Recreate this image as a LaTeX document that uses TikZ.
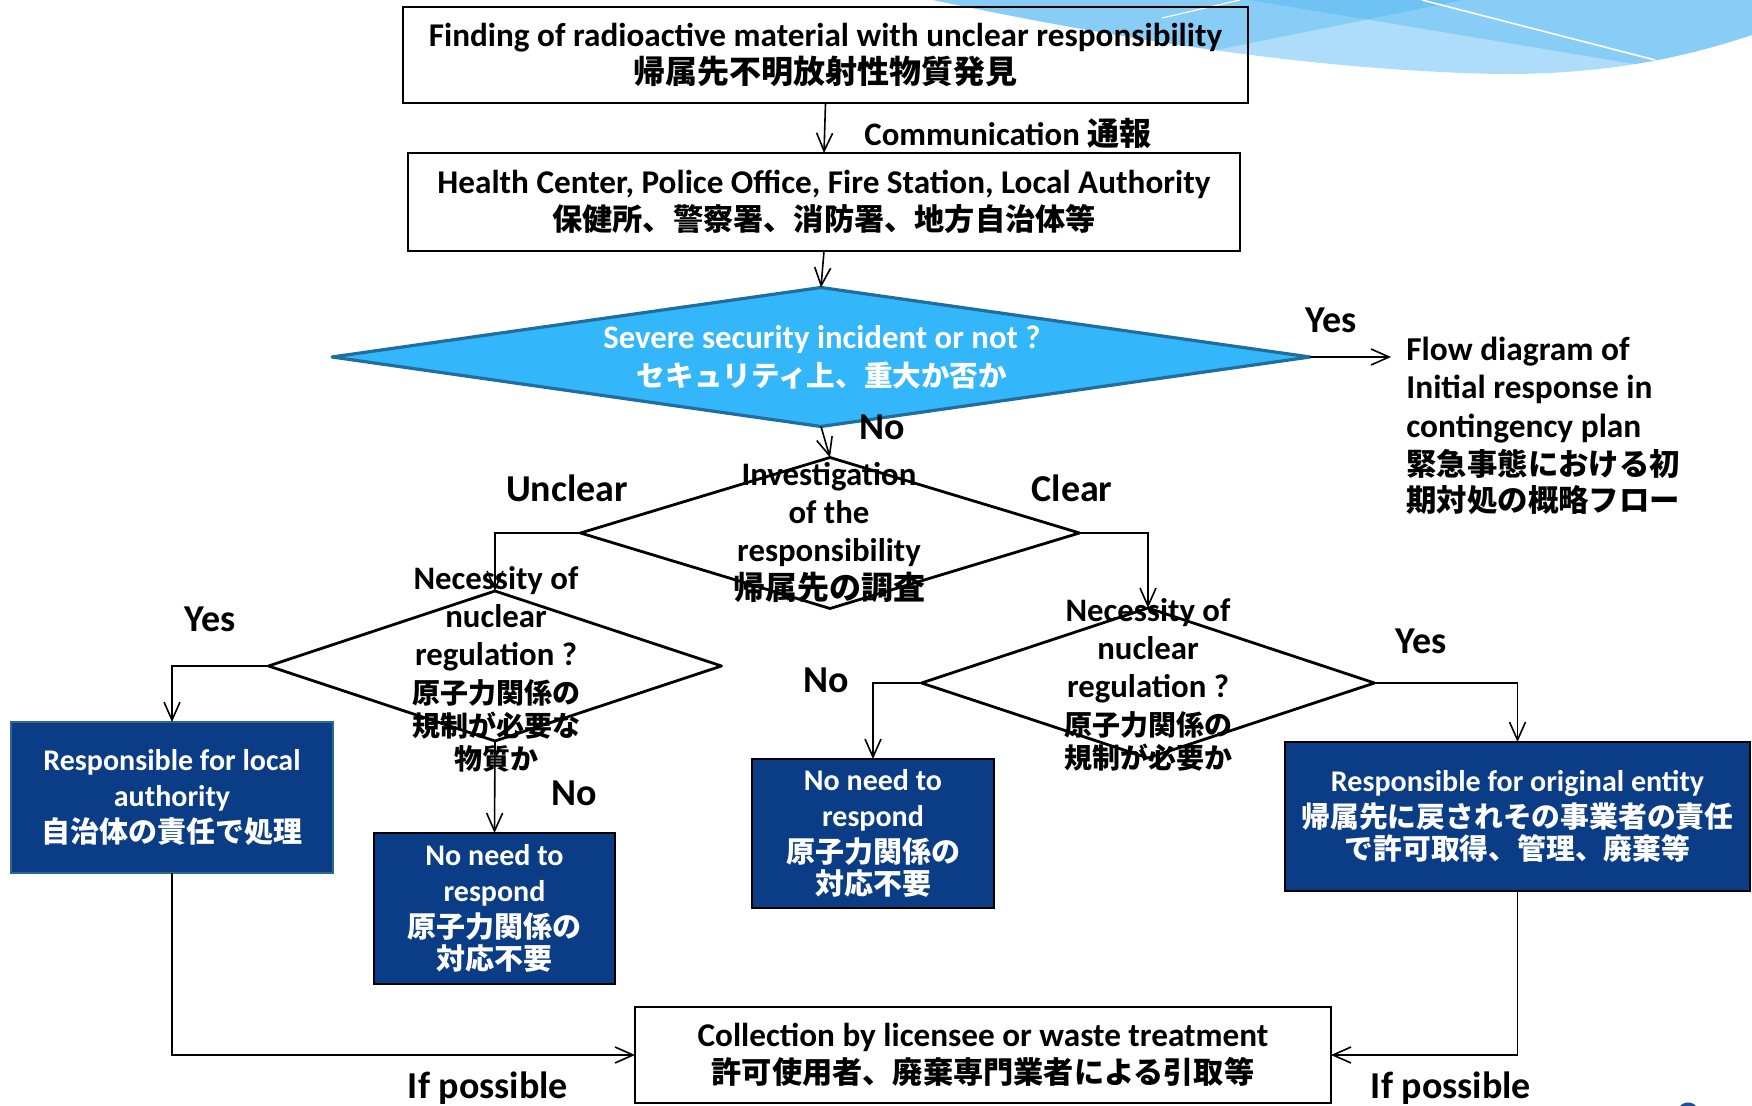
\documentclass[tikz,border=0pt]{standalone}
\usepackage{fontspec}
\setmainfont{Carlito}
\newfontfamily\jp{Noto Sans CJK JP}
\usetikzlibrary{shapes.geometric,arrows.meta}
\definecolor{skyb}{HTML}{33B6FA}
\definecolor{skybd}{HTML}{1F6E9E}
\definecolor{navyb}{HTML}{0B3D87}
\definecolor{laborder}{HTML}{2A6A8F}
\definecolor{decolight}{HTML}{ADDDFA}
\definecolor{decoover}{HTML}{33AAF0}
\definecolor{pagenum}{HTML}{1F4E9A}
\newcommand\jpt[2][15]{{\jp\bfseries\fontsize{#1}{19}\selectfont #2}}
\lineskiplimit=-20pt\relax
\begin{document}
\begin{tikzpicture}[x=0.5pt,y=-0.5pt,
  box/.style={draw=black,line width=1.2pt,inner sep=0pt,outer sep=0pt,align=center,
    font=\bfseries\fontsize{16.6}{18.8}\selectfont},
  dbox/.style={draw=black,fill=navyb,text=white,line width=1.2pt,inner sep=0pt,outer sep=0pt,align=center,
    font=\bfseries\fontsize{15}{18}\selectfont},
  dia/.style={diamond,draw=black,line width=1.4pt,line join=round,inner sep=0pt,outer sep=0pt},
  conn/.style={draw=black,line width=0.8pt,-{Straight Barb[length=9pt,width=8pt]}},
  txt/.style={inner sep=0pt,align=center,font=\bfseries\fontsize{16.4}{19}\selectfont},
  lbl/.style={inner sep=0pt,font=\bfseries\fontsize{19}{22}\selectfont},
]
\useasboundingbox (0,0) rectangle (1752,1106);
\clip (0,0) rectangle (1752,1106);
\fill[white] (0,0) rectangle (1752,1106);

% background decoration
\begin{scope}
  \clip (933,0) .. controls (1100,35) and (1300,70) .. (1498,74)
        .. controls (1620,75) and (1700,52) .. (1752,35) -- (1752,0) -- cycle;
  \fill[decolight] (900,-10) rectangle (1760,120);
  \fill[decoover,opacity=0.3] (1190,-10) -- (1760,85) -- (1760,-10) -- cycle;
  \fill[decoover,opacity=0.3] (900,114) -- (1513,-10) -- (900,-10) -- cycle;
  \draw[white,line width=0.8pt] (1422,0) -- (1655,60);
  \draw[white,line width=0.6pt] (1240,0) -- (1162,18);
\end{scope}

% boxes
\node[box,minimum width=422.5pt,minimum height=48pt] (box1) at (825.5,55)
  {Finding of radioactive material with unclear responsibility\\\jpt[16]{帰属先不明放射性物質発見}};
\node[box,minimum width=416pt,minimum height=49pt] (box2) at (824,202)
  {Health Center, Police Office, Fire Station, Local Authority\\\jpt[15.1]{保健所、警察署、消防署、地方自治体等}};

% diamonds
\node[dia,fill=skyb,draw=skybd,line width=1.6pt,minimum width=489pt,minimum height=69.5pt] (d1) at (821,357) {};
\node[dia,minimum width=249.5pt,minimum height=75.5pt] (d2) at (830,533) {};
\node[dia,minimum width=226.5pt,minimum height=75pt] (d3) at (495,666) {};
\node[dia,minimum width=226.5pt,minimum height=75pt] (d4) at (1148,683) {};

% dark boxes
\node[dbox,draw=laborder,minimum width=161pt,minimum height=75.5pt] (la) at (172,797.5)
  {Responsible for local\\authority\\\jpt[14.5]{自治体の責任で処理}};
\node[dbox,minimum width=120.5pt,minimum height=75.5pt] (nr1) at (494.5,908.5)
  {No need to\\respond\\\jpt[14.5]{原子力関係の}\\[-2pt]\jpt[14.5]{対応不要}};
\node[dbox,minimum width=121pt,minimum height=74.5pt] (nr2) at (873,833.5)
  {No need to\\respond\\\jpt[14.5]{原子力関係の}\\[-2pt]\jpt[14.5]{対応不要}};
\node[dbox,minimum width=232.5pt,minimum height=74.5pt] (ro) at (1517.5,816.5)
  {Responsible for original entity\\\jpt[14.4]{帰属先に戻されその事業者の責任}\\[-2pt]\jpt[14.4]{で許可取得、管理、廃棄等}};
\node[box,minimum width=348pt,minimum height=48pt] (bot) at (983,1055)
  {Collection by licensee or waste treatment\\\jpt[15.1]{許可使用者、廃棄専門業者による引取等}};

% free end for Yes arrow
\coordinate (yesend) at (1391,357);

% connectors
\draw[conn] (box1.south) -- (box2.north);
\draw[conn] (box2.south) -- (d1.north);
\draw[conn] (d1.east) -- (yesend);
\draw[conn] (d1.south) -- (d2.north);
\draw[conn] (d2.west) -| (d3.north);
\draw[conn] (d2.east) -| (d4.north);
\draw[conn] (d3.west) -| (la.north);
\draw[conn] (d3.south) -- (nr1.north);
\draw[conn] (d4.west) -| (nr2.north);
\draw[conn] (d4.east) -| (ro.north);
\draw[conn] (la.south) |- (bot.west);
\draw[conn] (ro.south) |- (bot.east);

% diamond texts
\node[txt,text=white] (td1) at (822,357)
  {Severe security incident or not ?\\\jpt[14.3]{セキュリティ上、重大か否か}};
\node[txt] (td2) at (829,533)
  {Investigation\\of the\\responsibility\\\jpt[16]{帰属先の調査}};
\node[txt] (td3) at (496,669)
  {Necessity of\\nuclear\\regulation ?\\\jpt[14]{原子力関係の}\\[-2.5pt]\jpt[14]{規制が必要な}\\[-2.5pt]\jpt[14]{物質か}};
\node[txt] (td4) at (1148,685)
  {Necessity of\\nuclear\\regulation ?\\\jpt[14]{原子力関係の}\\[-2.5pt]\jpt[14]{規制が必要か}};

% other texts
\node[txt,anchor=west] (comm) at (864,133) {Communication \jpt[16]{通報}};
\node[txt,anchor=west,align=left,font=\bfseries\fontsize{16.7}{19.2}\selectfont] (flow) at (1406,426)
  {Flow diagram of\\Initial response in\\contingency plan\\\jpt[15.2]{緊急事態における初}\\[-1pt]\jpt[15.2]{期対処の概略フロー}};

% labels
\node[lbl] (yes1) at (1331,320) {Yes};
\node[lbl] (no1) at (882,427) {No};
\node[lbl] (unclear) at (567,488) {Unclear};
\node[lbl] (clear) at (1072,488) {Clear};
\node[lbl] (yes3) at (210,619) {Yes};
\node[lbl] (no3) at (574,793) {No};
\node[lbl] (no4) at (826,680) {No};
\node[lbl] (yes4) at (1421,641) {Yes};
\node[lbl] (if1) at (488,1088) {If possible};
\node[lbl] (if2) at (1451,1088) {If possible};

\node[inner sep=0pt,anchor=base,text=pagenum,font=\bfseries\fontsize{24}{28}\selectfont] (pg) at (1688,1134) {3};
\end{tikzpicture}
\end{document}
